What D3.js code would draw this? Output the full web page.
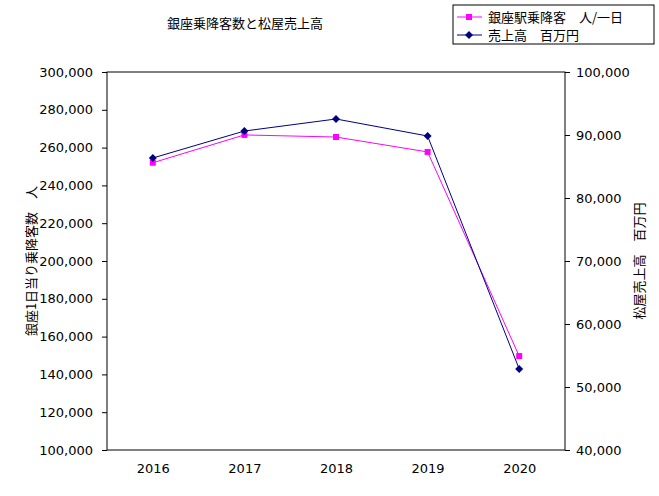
<!DOCTYPE html><html><head><meta charset="utf-8"><script src="https://cdn.jsdelivr.net/npm/d3@7"></script>
<style>body{margin:0;background:#fff}text{font-family:"Noto Sans CJK JP",sans-serif;font-size:12px}</style></head><body><svg id="c" width="659" height="496"></svg><script>
const years=["2016","2017","2018","2019","2020"];
const passengers=[252000,266700,265600,257700,149700];
const sales=[86350,90630,92540,89840,52860];
const leftTicks=[100000,120000,140000,160000,180000,200000,220000,240000,260000,280000,300000];
const rightTicks=[40000,50000,60000,70000,80000,90000,100000];
const svg=d3.select("#c");
const L=107,R=565,T=72,B=450;
const x=d3.scalePoint().domain(years).range([L,R]).padding(0.5);
const yl=d3.scaleLinear().domain([100000,300000]).range([B,T]);
const yr=d3.scaleLinear().domain([40000,100000]).range([B,T]);
svg.append("rect").attr("x",L).attr("y",T).attr("width",R-L).attr("height",B-T).attr("fill","none").attr("stroke","#000");
const fmt=d3.format(",");
const gl=svg.append("g").attr("transform",`translate(${L},0)`).call(d3.axisLeft(yl).tickValues(leftTicks).tickFormat(fmt).tickSize(5));
const gr=svg.append("g").attr("transform",`translate(${R},0)`).call(d3.axisRight(yr).tickValues(rightTicks).tickFormat(fmt).tickSize(5));
const gx=svg.append("g").attr("transform",`translate(0,${B})`).call(d3.axisBottom(x).tickSize(0).tickPadding(14));
[gl,gr,gx].forEach(g=>{g.selectAll("text").style("font-family","DejaVu Sans, sans-serif").style("font-size","13px").attr("fill","#000");g.select(".domain").remove();g.selectAll("line").attr("stroke","#000");});
gl.selectAll("text").attr("dx","-6");gr.selectAll("text").attr("dx","3");
function series(vals,y,col,shape){
 svg.append("path").datum(vals).attr("fill","none").attr("stroke",col).attr("stroke-width",1)
  .attr("d",d3.line().x((d,i)=>x(years[i])).y(d=>y(d)));
 svg.selectAll(null).data(vals).enter().append("path").attr("fill",col)
  .attr("transform",(d,i)=>`translate(${x(years[i])},${y(d)})`)
  .attr("d",shape=="s"?"M-3,-3h6v6h-6z":"M0,-4L4,0L0,4L-4,0z");
}
series(passengers,yl,"#ff00ff","s");
series(sales,yr,"#000080","d");
svg.append("text").attr("x",245).attr("y",28).attr("text-anchor","middle").style("font-size","13px").text("銀座乗降客数と松屋売上高");
svg.append("text").attr("transform","translate(36,261) rotate(-90)").attr("text-anchor","middle").style("font-size","13px").text("銀座1日当り乗降客数　人");
svg.append("text").attr("transform","translate(644,261) rotate(-90)").attr("text-anchor","middle").style("font-size","13px").text("松屋売上高　百万円");
const lg=svg.append("g");
lg.append("rect").attr("x",453).attr("y",5).attr("width",201).attr("height",39).attr("fill","#fff").attr("stroke","#000");
[["銀座駅乗降客　人/一日","#ff00ff","s",17],["売上高　百万円","#000080","d",35]].forEach(([t,c,s,yy])=>{
 lg.append("line").attr("x1",457).attr("x2",482).attr("y1",yy).attr("y2",yy).attr("stroke",c);
 lg.append("path").attr("fill",c).attr("transform",`translate(469,${yy})`).attr("d",s=="s"?"M-3,-3h6v6h-6z":"M0,-4L4,0L0,4L-4,0z");
 lg.append("text").attr("x",488).attr("y",yy+5).style("font-size","13px").text(t);
});
</script></body></html>
